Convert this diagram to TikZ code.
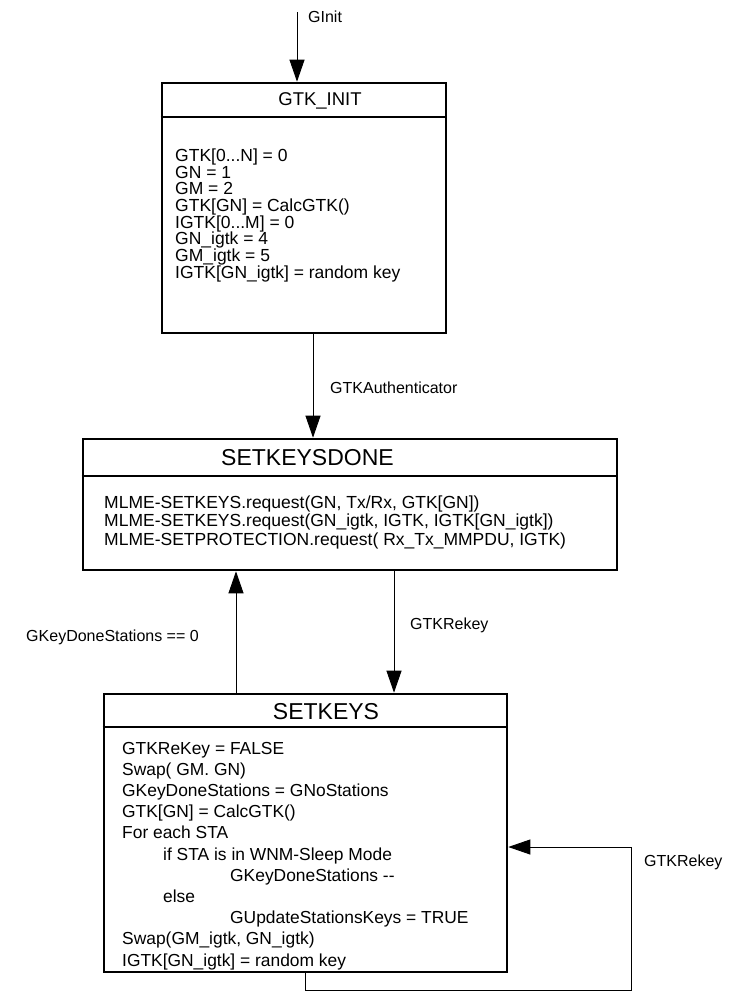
\documentclass[tikz,border=0pt]{standalone}
\usepackage{fontspec}
\setmainfont{Liberation Sans}
\usetikzlibrary{arrows.meta}
\usetikzlibrary{positioning}

\tikzset{
	statebox/.style={draw=black, line width=2.6pt, inner sep=0pt},
	divider/.style={draw=black, line width=2pt},
	statetitle/.style={inner sep=0pt, font=\fontsize{18.5}{20}\selectfont},
	bigtitle/.style={inner sep=0pt, font=\fontsize{23}{26}\selectfont},
	actions/.style={align=left, inner sep=0pt, anchor=north west},
	trans/.style={draw=black, line width=0.9pt,
		-{Triangle[width=15pt,length=22pt]}},
	translabel/.style={inner sep=0pt, font=\fontsize{16}{18}\selectfont},
}

\begin{document}
\begin{tikzpicture}[x=1pt, y=-1pt]
	\useasboundingbox (0,0) rectangle (729,991);
	% the three states
	\node[statebox, minimum width=284pt, minimum height=250pt] (gtkinit) at (304,208) {};
	\node[statebox, minimum width=534pt, minimum height=131pt] (setkeysdone) at (350,504.5) {};
	\node[statebox, minimum width=403pt, minimum height=278pt] (setkeys) at (305.5,833) {};
	\draw[divider] ([yshift=-35pt]gtkinit.north west) -- ([yshift=-35pt]gtkinit.north east);
	\draw[divider] ([yshift=-38pt]setkeysdone.north west) -- ([yshift=-38pt]setkeysdone.north east);
	\draw[divider] ([yshift=-34pt]setkeys.north west) -- ([yshift=-34pt]setkeys.north east);
	% titles
	\node[statetitle] (gtkinittitle) at (320,100.5) {GTK\_INIT};
	\node[bigtitle] (setkeysdonetitle) at (307.5,458) {SETKEYSDONE};
	\node[bigtitle] (setkeystitle) at (326,711.5) {SETKEYS};
	% state actions
	\node[actions, font=\fontsize{17.5}{16.7}\selectfont] (gtkinitbody) at (175,148.5) {%
		GTK[0...N] = 0\\
		GN = 1\\
		GM = 2\\
		GTK[GN] = CalcGTK()\\
		IGTK[0...M] = 0\\
		GN\_igtk = 4\\
		GM\_igtk = 5\\
		IGTK[GN\_igtk] = random key};
	\node[actions, font=\fontsize{17.5}{18.5}\selectfont] (setkeysdonebody) at (104,495.5) {%
		MLME-SETKEYS.request(GN, Tx/Rx, GTK[GN])\\
		MLME-SETKEYS.request(GN\_igtk, IGTK, IGTK[GN\_igtk])\\
		MLME-SETPROTECTION.request( Rx\_Tx\_MMPDU, IGTK)};
	\node[actions, font=\fontsize{17.4}{21.2}\selectfont] (setkeysbody) at (122,741.8) {%
		GTKReKey = FALSE\\
		Swap( GM. GN)\\
		GKeyDoneStations = GNoStations\\
		GTK[GN] = CalcGTK()\\
		For each STA\\
		\hspace*{41pt}if STA is in WNM-Sleep Mode\\
		\hspace*{108pt}GKeyDoneStations -{}-\\
		\hspace*{41pt}else\\
		\hspace*{108pt}GUpdateStationsKeys = TRUE\\
		Swap(GM\_igtk, GN\_igtk)\\
		IGTK[GN\_igtk] = random key};
	% transitions
	\coordinate (ginit) at (297,12);
	\coordinate (loopcorner) at (631,990);
	\draw[trans] (ginit) -- (ginit |- gtkinit.north);
	\draw[trans] ([xshift=9pt]gtkinit.south) -- ([xshift=9pt]gtkinit.south |- setkeysdone.north);
	\draw[trans] ([xshift=-69.5pt]setkeys.north) -- ([xshift=-69.5pt]setkeys.north |- setkeysdone.south);
	\draw[trans] ([xshift=88.5pt]setkeys.north |- setkeysdone.south) -- ([xshift=88.5pt]setkeys.north);
	\draw[trans] (setkeys.south) |- (loopcorner) |- ([yshift=-14pt]setkeys.east);
	% transition labels
	\node[translabel, anchor=west] (ginitlabel) at (308,17) {GInit};
	\node[translabel, anchor=west] (authlabel) at (330,388) {GTKAuthenticator};
	\node[translabel, anchor=east] (donelabel) at (199,637) {GKeyDoneStations == 0};
	\node[translabel, anchor=west] (rekeylabel) at (410,625) {GTKRekey};
	\node[translabel, anchor=west] (looplabel) at (644,862) {GTKRekey};
\end{tikzpicture}
\end{document}
